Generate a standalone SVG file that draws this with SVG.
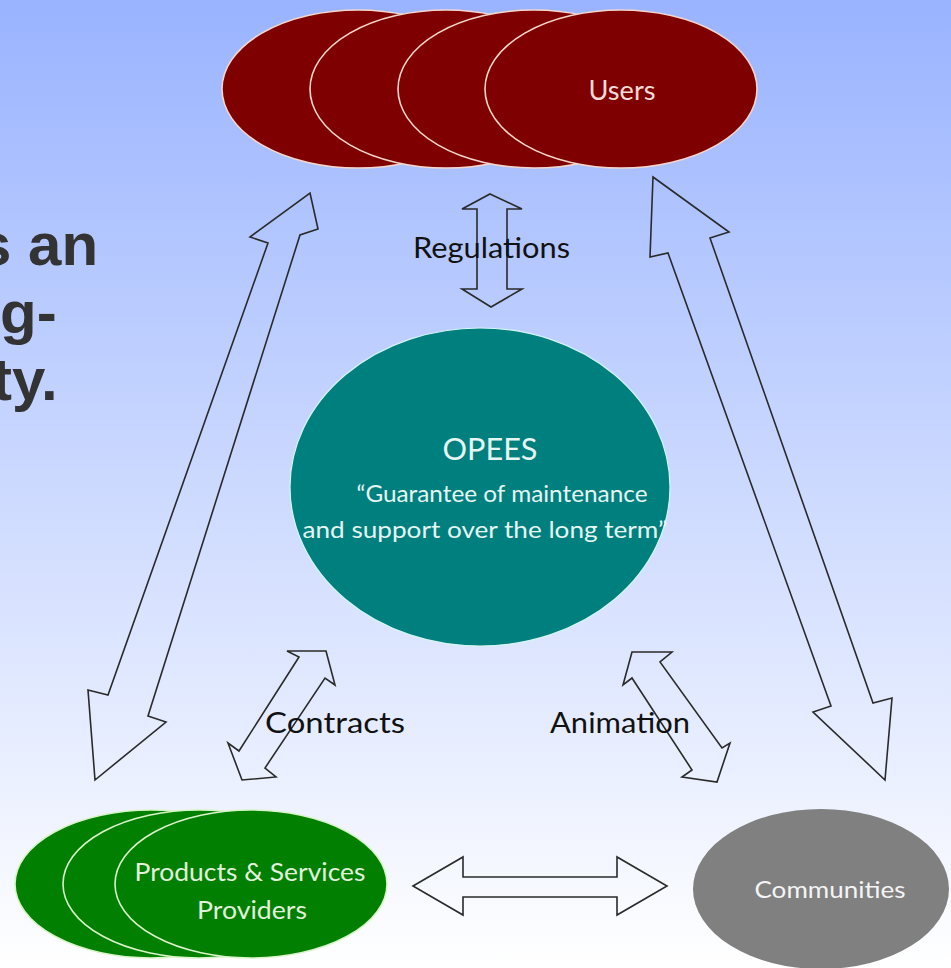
<svg xmlns="http://www.w3.org/2000/svg" width="951" height="968" viewBox="0 0 951 968">
<defs>
<linearGradient id="bg" x1="0" y1="0" x2="0" y2="1">
<stop offset="0" stop-color="#99b3ff"/>
<stop offset="1" stop-color="#ffffff"/>
</linearGradient>
<style>
.lbl{font-family:Lato,"Open Sans","Liberation Sans",sans-serif;}
.arrow{fill:none;stroke:#2a2a2a;stroke-width:1.6;stroke-linejoin:miter;}
.user{fill:#7f0000;stroke:#f4d6cc;stroke-width:1.6;}
.prov{fill:#007f00;stroke:#d8f4c8;stroke-width:1.6;}
.big{font-family:"Liberation Sans",Arial,sans-serif;font-weight:bold;font-size:60px;fill:#333333;}
</style>
</defs>
<rect x="0" y="0" width="951" height="968" fill="url(#bg)"/>
<g id="title-fragment">
<text class="big" x="-22" y="265">s an</text>
<text class="big" x="0" y="333">g-</text>
<text class="big" x="-8" y="400">ty.</text>
</g>
<g id="users">
<ellipse class="user" cx="358" cy="89" rx="136" ry="79"/>
<ellipse class="user" cx="446" cy="89" rx="136" ry="79"/>
<ellipse class="user" cx="534" cy="89" rx="136" ry="79"/>
<ellipse class="user" cx="621" cy="89" rx="136" ry="79"/>
<text class="lbl" x="622" y="100" font-size="27" fill="#f6dcd6" text-anchor="middle" textLength="67" lengthAdjust="spacingAndGlyphs">Users</text>
</g>
<g id="opees">
<ellipse cx="480" cy="487" rx="190" ry="159" fill="#007f7f" stroke="#d6f6f2" stroke-width="1.2"/>
<text class="lbl" x="490" y="460" font-size="30" fill="#e6f6f2" text-anchor="middle" textLength="95" lengthAdjust="spacingAndGlyphs">OPEES</text>
<text class="lbl" x="502" y="502" font-size="24" fill="#e6f6f2" text-anchor="middle" textLength="291" lengthAdjust="spacingAndGlyphs">“Guarantee of maintenance</text>
<text class="lbl" x="485" y="538" font-size="24" fill="#e6f6f2" text-anchor="middle" textLength="365" lengthAdjust="spacingAndGlyphs">and support over the long term”</text>
</g>
<g id="providers">
<ellipse class="prov" cx="151" cy="884" rx="136" ry="74"/>
<ellipse class="prov" cx="199" cy="884" rx="136" ry="74"/>
<ellipse class="prov" cx="251" cy="884" rx="136" ry="74"/>
<text class="lbl" x="250" y="881" font-size="25" fill="#e2f2dc" text-anchor="middle" textLength="231" lengthAdjust="spacingAndGlyphs">Products &amp; Services</text>
<text class="lbl" x="252" y="919" font-size="25" fill="#e2f2dc" text-anchor="middle" textLength="110" lengthAdjust="spacingAndGlyphs">Providers</text>
</g>
<g id="communities">
<ellipse cx="821" cy="889" rx="128" ry="80" fill="#808080"/>
<text class="lbl" x="830" y="898" font-size="24" fill="#f4f4f4" text-anchor="middle" textLength="151" lengthAdjust="spacingAndGlyphs">Communities</text>
</g>
<g id="connectors">
<polygon class="arrow" points="490,194 522,209 507,209 507,289 522,289 491,307 462,289 477,289 477,209 462,209"/>
<polygon class="arrow" points="310,193 318,229 300,235 148,716 166,722 95,780 88,690 108,695 268,243 250,237"/>
<polygon class="arrow" points="653,177 729,232 710,238 873,703 892,698 885,780 813,712 831,706 668,253 650,257"/>
<polygon class="arrow" points="326,651 335,685 325,678 265,768 276,777 242,780 228,743 239,751 299,657 287,651"/>
<polygon class="arrow" points="632,652 672,652 660,662 722,748 730,743 717,782 682,777 692,770 632,678 623,685"/>
<polygon class="arrow" points="413,886 463,857 463,877 617,877 617,857 667,886 617,915 617,897 463,897 463,915"/>
</g>
<g id="labels">
<text class="lbl" x="413" y="258" font-size="29" fill="#111" textLength="157" lengthAdjust="spacingAndGlyphs">Regulations</text>
<text class="lbl" x="265" y="733" font-size="29" fill="#111" textLength="140" lengthAdjust="spacingAndGlyphs">Contracts</text>
<text class="lbl" x="550" y="733" font-size="29" fill="#111" textLength="140" lengthAdjust="spacingAndGlyphs">Animation</text>
</g>
</svg>
